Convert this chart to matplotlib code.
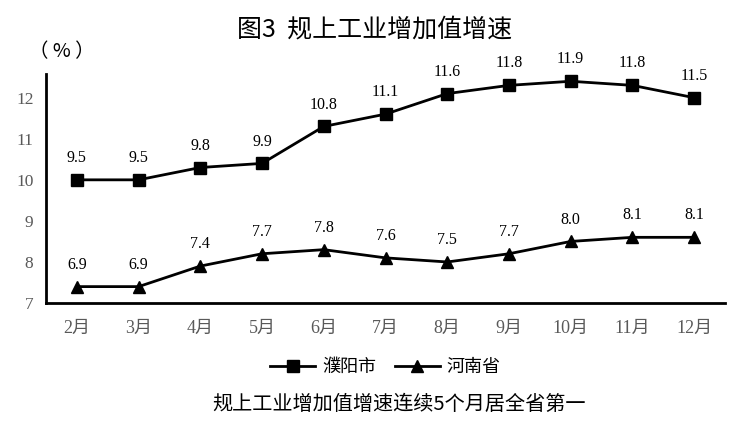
import matplotlib
matplotlib.use("Agg")
import matplotlib.pyplot as plt

months = ["2月", "3月", "4月", "5月", "6月", "7月", "8月", "9月", "10月", "11月", "12月"]
puyang = [9.5, 9.5, 9.8, 9.9, 10.8, 11.1, 11.6, 11.8, 11.9, 11.8, 11.5]
henan = [6.9, 6.9, 7.4, 7.7, 7.8, 7.6, 7.5, 7.7, 8.0, 8.1, 8.1]
yticks = [7, 8, 9, 10, 11, 12]
axis_shift = 0.5  # 原图纵轴与数据标签相差0.5

serif = ["Liberation Serif", "Noto Sans CJK SC"]
cjk = ["Noto Sans CJK SC", "DejaVu Sans"]
plt.rcParams["font.family"] = serif

fig = plt.figure(figsize=(7.49, 4.45), dpi=100)
ax = fig.add_axes([0.0614, 0.319, 0.9066, 0.515])

x = list(range(len(months)))
py_plot = [v + axis_shift for v in puyang]
hn_plot = [v + axis_shift for v in henan]
ax.plot(x, py_plot, color="black", lw=2, marker="s", ms=8, label="濮阳市")
ax.plot(x, hn_plot, color="black", lw=2, marker="^", ms=9, label="河南省")

for xi, v, p in zip(x, puyang, py_plot):
    ax.annotate(f"{v:.1f}", (xi, p), xytext=(0, 10), textcoords="offset points",
                ha="center", va="bottom", fontsize=11.5, family="Liberation Serif")
for xi, v, p in zip(x, henan, hn_plot):
    ax.annotate(f"{v:.1f}", (xi, p), xytext=(0, 10), textcoords="offset points",
                ha="center", va="bottom", fontsize=11.5, family="Liberation Serif")

ax.set_xlim(-0.5, 10.5)
ax.set_ylim(7, 12.58)
ax.set_yticks(yticks)
ax.set_yticklabels([str(t) for t in yticks])
ax.set_xticks(x)
ax.set_xticklabels(months)
ax.tick_params(length=0, labelsize=13, colors="#595959")
ax.tick_params(axis="x", pad=12)
ax.tick_params(axis="y", pad=9, labelsize=12.5)
for lab in ax.get_xticklabels():
    lab.set_family(serif)
for s in ["top", "right"]:
    ax.spines[s].set_visible(False)
ax.spines["left"].set_linewidth(2)
ax.spines["bottom"].set_linewidth(2)

fig.text(0.5, 0.933, "图3  规上工业增加值增速", ha="center", va="center",
         fontsize=18, family=cjk)
fig.text(0.082, 0.883, "（ % ）", ha="center", va="center", fontsize=14, family=cjk)

leg = ax.legend(loc="center", bbox_to_anchor=(0.5, -0.28), ncol=2, frameon=False,
                prop={"family": cjk, "size": 13}, handlelength=2.5,
                columnspacing=1.0, handletextpad=0.4)

fig.text(0.533, 0.09, "规上工业增加值增速连续5个月居全省第一", ha="center", va="center",
         fontsize=14.5, family=cjk)

fig.savefig("out.png", dpi=100)
